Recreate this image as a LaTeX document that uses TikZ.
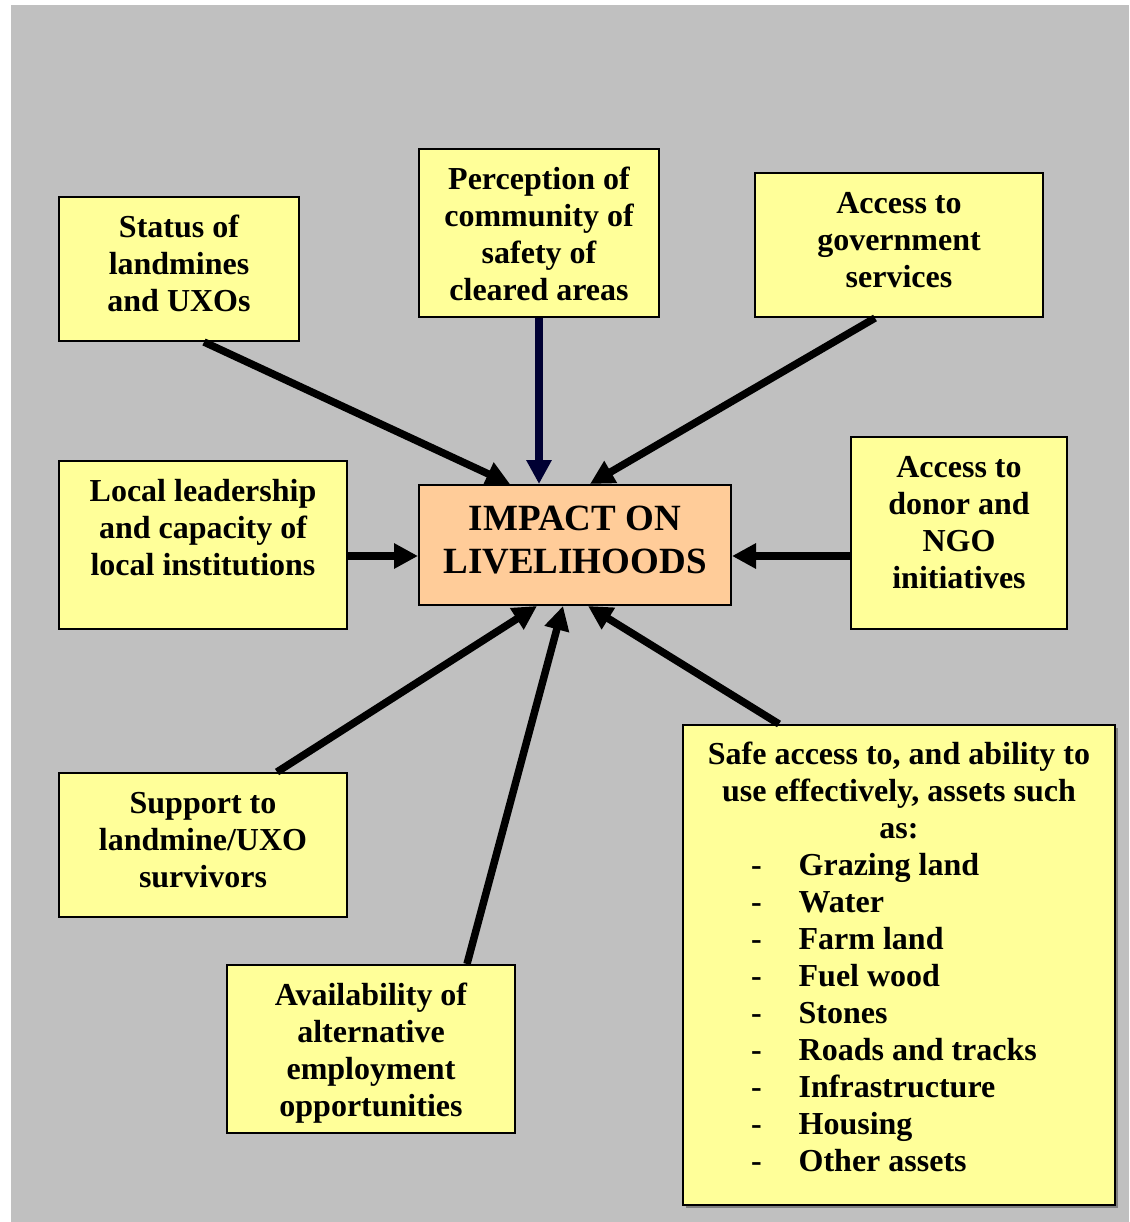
\documentclass[tikz,border=0pt]{standalone}
\usepackage{fontspec}
\setmainfont{Liberation Serif}
\usetikzlibrary{arrows.meta,calc}
\definecolor{bggray}{HTML}{C0C0C0}
\definecolor{boxyellow}{HTML}{FFFF99}
\definecolor{boxorange}{HTML}{FFCC99}
\definecolor{navyarrow}{HTML}{000033}
\definecolor{shadowgray}{HTML}{808080}
\newcommand{\topstrut}{\rule{0pt}{26pt}}
\newcommand{\bigstrut}{\rule{0pt}{30pt}}
\newcommand{\listline}[1]{\makebox[296pt][l]{-\hspace{37pt}#1}}
\begin{document}
\begin{tikzpicture}[x=1pt,y=-1pt,
  ybox/.style={draw=black,line width=2pt,fill=boxyellow,rectangle,inner sep=0pt},
  obox/.style={draw=black,line width=2pt,fill=boxorange,rectangle,inner sep=0pt},
  txt/.style={inner sep=0pt,anchor=north,align=center,font=\bfseries\fontsize{32}{37}\selectfont},
  bigtxt/.style={inner sep=0pt,anchor=north,align=center,font=\bfseries\fontsize{37}{43.5}\selectfont},
  arr/.style={line width=7.5pt,-{Triangle[length=24pt,width=24pt]}}]
\useasboundingbox (0,0) rectangle (1129,1222);
\fill[bggray] (11,5) rectangle (1129,1222);

% boxes
\node[ybox,minimum width=240pt,minimum height=144pt] (status) at (179,269) {};
\node[ybox,minimum width=240pt,minimum height=168pt] (percep) at (539,233) {};
\node[ybox,minimum width=288pt,minimum height=144pt] (gov) at (899,245) {};
\node[obox,minimum width=312pt,minimum height=120pt] (impact) at (575,545) {};
\node[ybox,minimum width=288pt,minimum height=168pt] (local) at (203,545) {};
\node[ybox,minimum width=216pt,minimum height=192pt] (donor) at (959,533) {};
\node[ybox,minimum width=288pt,minimum height=144pt] (support) at (203,845) {};
\node[ybox,minimum width=288pt,minimum height=168pt] (avail) at (371,1049) {};
\fill[shadowgray] (686,728) rectangle (1118,1208);
\node[ybox,minimum width=432pt,minimum height=480pt] (safe) at (899,965) {};

% texts
\node[txt] (statustxt) at (179,211) {\topstrut Status of\\landmines\\and UXOs};
\node[txt] (percetxt) at (539,163) {\topstrut Perception of\\community of\\safety of\\cleared areas};
\node[txt] (govtxt) at (899,187) {\topstrut Access to\\government\\services};
\node[bigtxt] (impacttxt) at (575,500) {\bigstrut IMPACT ON\\LIVELIHOODS};
\node[txt] (localtxt) at (203,475) {\topstrut Local leadership\\and capacity of\\local institutions};
\node[txt] (donortxt) at (959,451) {\topstrut Access to\\donor and\\NGO\\initiatives};
\node[txt] (supporttxt) at (203,787) {\topstrut Support to\\landmine/UXO\\survivors};
\node[txt] (availtxt) at (371,979) {\topstrut Availability of\\alternative\\employment\\opportunities};
\node[txt] (safetxt) at (899,738) {\topstrut Safe access to, and ability to\\use effectively, assets such\\as:\\
  \listline{Grazing land}\\\listline{Water}\\\listline{Farm land}\\\listline{Fuel wood}\\
  \listline{Stones}\\\listline{Roads and tracks}\\\listline{Infrastructure}\\\listline{Housing}\\\listline{Other assets}};

% arrows
\draw[arr] ([xshift=25pt]status.south) -- ([xshift=-65pt]impact.north);
\draw[arr,navyarrow] (percep.south) -- ([xshift=-36pt]impact.north);
\draw[arr] ([xshift=-24pt]gov.south) -- ([xshift=15pt]impact.north);
\draw[arr] ([yshift=-11pt]local.east) -- ([yshift=-11pt]impact.west);
\draw[arr] ([yshift=-23pt]donor.west) -- ([yshift=-11pt]impact.east);
\draw[arr] ([xshift=74pt]support.north) -- ([xshift=-38pt]impact.south);
\draw[arr] ([xshift=96pt]avail.north) -- ([xshift=-12pt]impact.south);
\draw[arr] ([xshift=-120pt]safe.north) -- ([xshift=13pt]impact.south);
\end{tikzpicture}
\end{document}
